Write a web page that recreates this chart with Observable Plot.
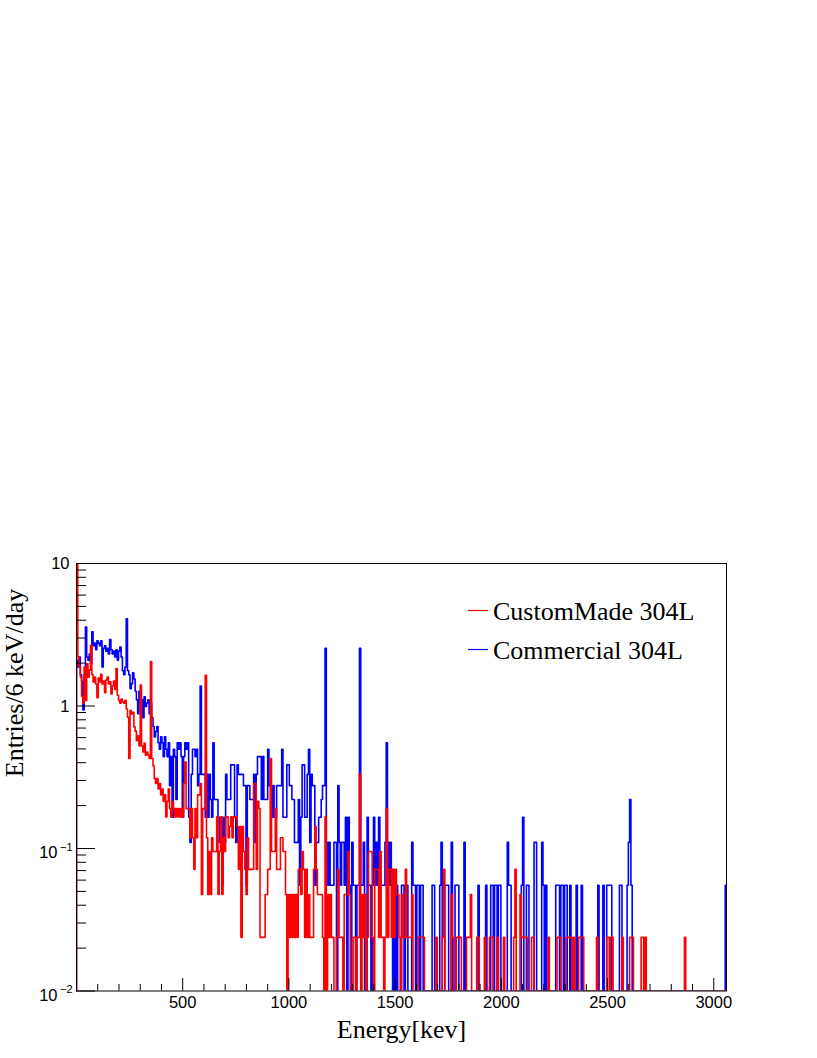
<!DOCTYPE html>
<html><head><meta charset="utf-8">
<script src="https://cdn.jsdelivr.net/npm/d3@7"></script>
<script src="https://cdn.jsdelivr.net/npm/@observablehq/plot@0.6"></script>
<style>body{margin:0;background:#fff}svg{display:block}</style>
</head><body><div id="chart"></div>
<script>
// ---- data ----
const binWidthKeV = 6;            // 510 bins, 0 .. 3060 keV
const seriesNames = ["CustomMade 304L", "Commercial 304L"];
const seriesColors = ["#ff0000", "#0000ff"];
// entries/day represented by one count in each spectrum
const customRatePerCount = 0.0238;
const commercialRatePerCount = 0.0552;

// counts per 6 keV bin, CustomMade 304L (red)
const customCounts = [
430,93,80,67,49,44,79,46,83,67,75,112,70,62,67,60,48,66,62,70,
60,63,52,64,67,60,62,51,58,63,55,77,50,46,44,47,45,44,46,40,
35,18,39,37,38,30,28,24,26,22,59,22,20,23,19,20,19,18,86,18,
16,13,12,13,11,12,10,11,9,10,7,9,11,8,7,9,8,7,8,7,
8,7,8,7,12,17,8,8,8,5,8,5,3,8,5,10,10,12,2,8,
8,69,5,2,4,2,5,4,4,4,7,2,4,7,2,5,4,7,7,5,
6,7,5,7,7,7,6,3,6,1,6,4,3,2,5,3,3,3,3,12,
12,3,9,8,1,1,1,1,2,2,3,3,18,4,4,4,8,3,3,3,
5,5,4,4,2,0,2,1,2,1,2,1,2,1,3,3,2,4,3,1,
3,1,2,1,1,1,3,6,3,2,2,2,2,1,0,7,0,2,1,2,
1,1,0,0,1,3,1,1,1,0,2,2,2,4,2,0,0,1,1,0,
1,1,14,0,2,1,2,0,1,4,4,4,1,0,3,3,3,1,4,1,
1,0,1,8,1,3,3,1,3,1,3,2,2,1,0,2,1,1,3,1,
1,1,1,2,0,0,0,0,1,1,1,1,1,0,0,0,0,0,0,0,
0,0,1,0,0,0,0,1,3,0,0,0,0,0,2,1,0,0,1,1,
1,1,0,0,0,0,1,1,1,2,0,0,0,0,1,1,0,0,0,0,
1,0,0,0,1,1,1,0,0,0,1,0,0,0,0,1,0,0,0,0,
0,0,0,1,3,0,0,0,2,1,1,1,1,1,0,0,0,1,1,0,
0,0,0,0,0,0,0,0,0,0,1,0,0,0,0,0,0,1,1,1,
0,0,0,0,1,1,1,1,1,0,1,0,0,0,1,1,1,1,0,0,
0,0,0,0,0,0,0,0,1,0,0,0,0,0,0,0,1,1,0,1,
1,0,0,0,0,0,0,0,1,0,0,0,0,0,1,1,1,0,0,0,
0,0,0,1,1,0,1,0,0,0,0,0,0,0,0,0,0,0,0,0,
0,0,0,0,0,0,0,0,0,0,0,0,0,0,0,0,0,1,0,0,
0,0,0,0,0,0,0,0,0,0,0,0,0,0,0,0,0,0,0,0,
0,0,0,0,0,0,0,0,0,0
];

// counts per 6 keV bin, Commercial 304L (blue)
const commercialCounts = [
38,34,40,30,27,17,30,65,40,38,42,36,60,48,50,45,52,50,48,52,
34,46,48,44,46,42,53,45,42,44,40,45,38,44,47,40,32,30,34,74,
32,30,24,26,31,28,23,20,16,23,19,20,15,21,18,19,20,16,19,15,
13,11,12,13,10,9,11,10,8,11,9,8,10,5,8,3,9,8,4,10,
9,10,8,3,8,10,9,10,3,2,6,9,9,8,9,5,6,25,6,6,
6,3,6,3,6,4,3,10,4,4,4,3,2,3,1,3,2,6,4,4,
4,7,7,7,3,2,7,6,6,6,6,5,5,1,5,5,4,4,4,6,
2,6,8,8,8,4,8,4,4,4,9,5,5,3,5,3,3,5,5,5,
5,9,3,3,3,7,7,5,5,4,4,2,2,2,4,1,3,7,7,3,
3,6,9,2,6,5,5,1,2,2,3,3,4,5,5,46,2,1,2,1,
1,1,2,2,0,5,2,1,2,2,1,3,0,3,1,0,2,1,1,0,
1,1,46,1,1,2,0,0,3,1,1,0,1,3,1,2,1,3,1,1,
1,1,2,10,2,1,2,1,0,1,0,1,0,0,0,1,1,0,1,1,
0,0,0,2,1,1,0,1,1,0,1,1,0,0,0,0,0,0,0,1,
1,0,0,0,0,1,2,0,0,1,1,1,0,0,2,0,0,1,1,1,
0,0,0,0,2,0,0,0,0,0,0,0,0,0,0,1,0,0,0,0,
0,1,0,0,0,1,1,0,1,1,0,1,1,0,0,0,0,0,2,1,
1,0,0,0,0,0,0,0,0,1,3,0,0,1,1,0,0,0,0,2,
2,0,0,0,0,2,1,0,1,0,0,0,0,0,0,0,1,1,1,0,
1,1,0,1,1,0,0,1,0,0,0,0,1,0,0,0,1,0,0,0,
0,0,0,0,0,0,0,0,0,1,0,0,0,1,0,0,1,1,1,1,
0,0,0,0,0,0,1,1,0,0,0,0,1,2,4,1,0,0,0,0,
0,0,0,0,0,0,0,0,0,0,0,0,0,0,0,0,0,0,0,0,
0,0,0,0,0,0,0,0,0,0,0,0,0,0,0,0,0,0,0,0,
0,0,0,0,0,0,0,0,0,0,0,0,0,0,0,0,0,0,0,0,
0,0,0,0,0,0,0,0,0,1
];

// axis ticks and labels
const xMajorTicks = [500, 1000, 1500, 2000, 2500, 3000];
const xTickLabels = ["500", "1000", "1500", "2000", "2500", "3000"];
const yDomain = [0.01, 10];
const yMajorTicks = [0.01, 0.1, 1, 10];
const yPlainLabels = [{v: 10, t: "10"}, {v: 1, t: "1"}];
const yExpLabels = [{v: 0.1, base: "10", exp: "\u22121"}, {v: 0.01, base: "10", exp: "\u22122"}];
const xTitle = "Energy[kev]";
const yTitle = "Entries/6 keV/day";

// ---- build ----
const W = 817, H = 1058;
const mT = 563, mL = 76, mR = 91, mB = 67.5;
const frameW = W - mL - mR, frameH = H - mT - mB;
const xMinorTicks = d3.range(100, 3001, 100).filter(d => d % 500 !== 0);
const yMinorTicks = [0.01, 0.1, 1].flatMap(k => d3.range(2, 10).map(m => m * k));

function outline(counts, rate) {
  const lo = yDomain[0];
  const pts = [{x: 0, y: lo}];
  counts.forEach((c, i) => pts.push({x: i * binWidthKeV, y: c > 0 ? c * rate : lo}));
  const n = counts.length, last = counts[n - 1];
  pts.push({x: n * binWidthKeV, y: last > 0 ? last * rate : lo});
  pts.push({x: n * binWidthKeV, y: lo});
  return pts;
}
const redLine = outline(customCounts, customRatePerCount);
const blueLine = outline(commercialCounts, commercialRatePerCount);

const sans = "Liberation Sans, Arial, Helvetica, sans-serif";
const serif = "Liberation Serif, Times New Roman, serif";

const chart = Plot.plot({
  width: W, height: H,
  marginTop: mT, marginLeft: mL, marginRight: mR, marginBottom: mB,
  x: {domain: [0, binWidthKeV * customCounts.length], axis: null},
  y: {type: "log", domain: yDomain, axis: null},
  style: {background: "#fff"},
  marks: [
    Plot.line(blueLine, {x: "x", y: "y", curve: "step-after", stroke: seriesColors[1], strokeWidth: 1.6, clip: true}),
    Plot.line(redLine, {x: "x", y: "y", curve: "step-after", stroke: seriesColors[0], strokeWidth: 1.6, clip: true}),
    Plot.frame({stroke: "#000", strokeWidth: 1}),
    Plot.tickX(xMajorTicks, {x: d => d, insetTop: frameH - 12.5, stroke: "#000"}),
    Plot.tickX(xMinorTicks, {x: d => d, insetTop: frameH - 6.5, stroke: "#000"}),
    Plot.tickY(yMajorTicks, {y: d => d, insetRight: frameW - 19, stroke: "#000"}),
    Plot.tickY(yMinorTicks, {y: d => d, insetRight: frameW - 10, stroke: "#000"}),
    Plot.text(xMajorTicks, {x: d => d, text: (d, i) => xTickLabels[i], frameAnchor: "bottom", lineAnchor: "top", dy: 5.5, fontSize: 16.5, fontFamily: sans, fill: "#000"}),
    Plot.text(yPlainLabels, {y: "v", text: "t", frameAnchor: "left", textAnchor: "end", dx: -7, dy: 0.5, fontSize: 16.5, fontFamily: sans, fill: "#000"}),
    Plot.text(yExpLabels, {y: "v", text: "base", frameAnchor: "left", textAnchor: "end", dx: -19, dy: 4.5, fontSize: 16.5, fontFamily: sans, fill: "#000"}),
    Plot.text(yExpLabels, {y: "v", text: "exp", frameAnchor: "left", textAnchor: "end", dx: -4, dy: -1.5, fontSize: 11, fontFamily: sans, fill: "#000"}),
    Plot.text([xTitle], {text: d => d, frameAnchor: "bottom", lineAnchor: "top", dy: 29, fontSize: 26, fontFamily: serif, fill: "#000"}),
    Plot.text([yTitle], {text: d => d, frameAnchor: "left", rotate: -90, lineAnchor: "middle", dx: -62, fontSize: 26, fontFamily: serif, fill: "#000"})
  ]
});
document.getElementById("chart").appendChild(chart);

// legend (inside the frame, top right)
const svg = d3.select(chart);
const lg = svg.append("g").attr("font-family", serif).attr("font-size", 26).attr("text-anchor", "start");
seriesNames.forEach((name, i) => {
  const base = 620 + i * 39;
  lg.append("line").attr("x1", 468).attr("x2", 488).attr("y1", base - 9.5).attr("y2", base - 9.5)
    .attr("stroke", seriesColors[i]).attr("stroke-width", 1.2);
  lg.append("text").attr("x", 493).attr("y", base).attr("fill", "#000").attr("text-anchor", "start").text(name);
});
</script>
</body></html>
